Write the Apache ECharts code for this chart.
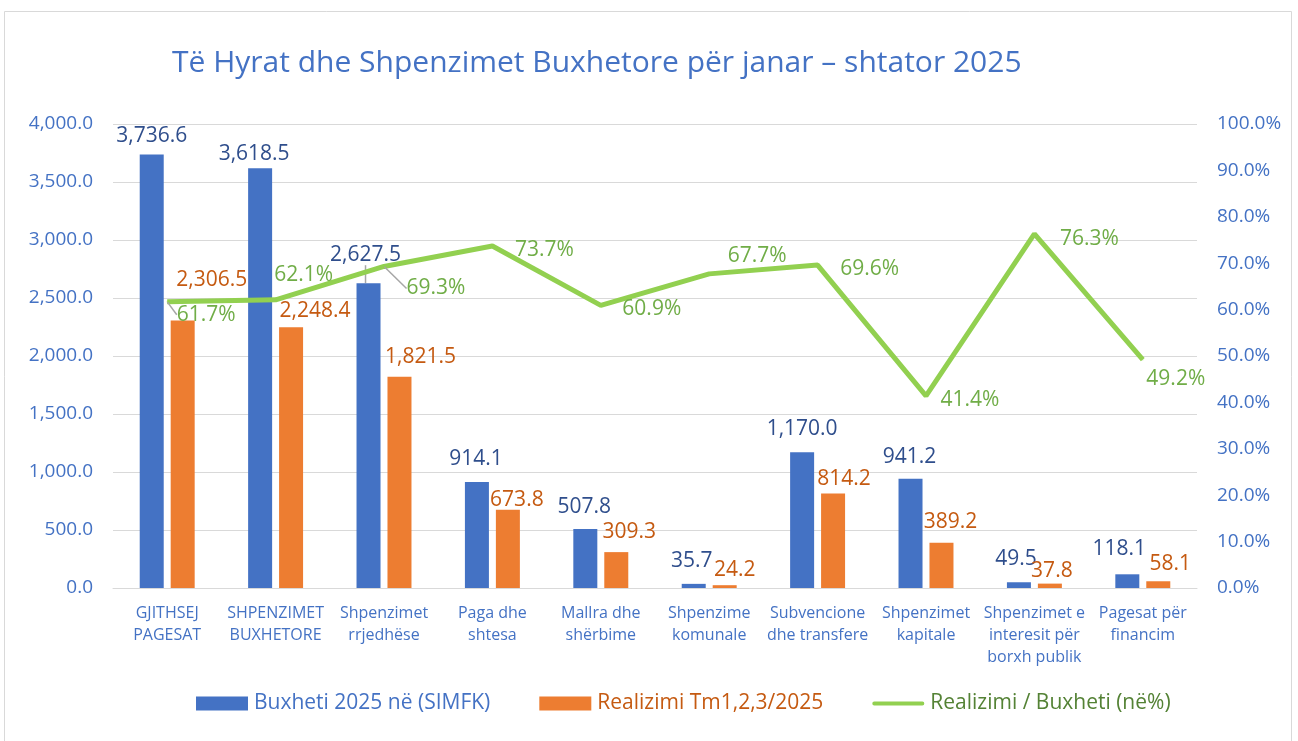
<!DOCTYPE html>
<html>
<head>
<meta charset="utf-8">
<script src="https://cdn.jsdelivr.net/npm/echarts@6/dist/echarts.min.js"></script>
<style>
html,body{margin:0;padding:0;background:#fff;}
#chart{width:1298px;height:741px;}
</style>
</head>
<body>
<div id="chart"></div>
<script>
const categories = [
  'GJITHSEJ\nPAGESAT', 'SHPENZIMET\nBUXHETORE', 'Shpenzimet\nrrjedhëse', 'Paga dhe\nshtesa',
  'Mallra dhe\nshërbime', 'Shpenzime\nkomunale', 'Subvencione\ndhe transfere', 'Shpenzimet\nkapitale',
  'Shpenzimet e\ninteresit për\nborxh publik', 'Pagesat për\nfinancim'
];
const buxheti = [3736.6, 3618.5, 2627.5, 914.1, 507.8, 35.7, 1170.0, 941.2, 49.5, 118.1];
const realizimi = [2306.5, 2248.4, 1821.5, 673.8, 309.3, 24.2, 814.2, 389.2, 37.8, 58.1];
const perqindja = [61.7, 62.1, 69.3, 73.7, 60.9, 67.7, 69.6, 41.4, 76.3, 49.2];
const seriesNames = ['Buxheti 2025 në (SIMFK)', 'Realizimi Tm1,2,3/2025', 'Realizimi / Buxheti (në%)'];
const titleText = 'Të Hyrat dhe Shpenzimet Buxhetore për janar – shtator 2025';

// label placement tweaks (styling only)
const blueOff = [[0,-3],[-6,1],[-3,-13],[-1,-7],[-1,-7],[-2,-7],[0,-8],[-1,-6],[-3,-8],[-8,-10]];
const orangeOff = [[29,-25],[24,-1],[21,-4],[9,6],[13,-5],[10,0],[11,1],[9,-5],[2,3],[12,-2]];
const greenOff = [[39,13],[28,-25],[52,22],[52,4],[51,4],[48,-18],[52,4],[44,4],[55,5],[33,19]];
const blueLeader = [2];
const greenLeader = [0, 2];

const FONT = '"Open Sans", Lato, sans-serif';
const fmtNum = v => Number(v).toLocaleString('en-US', {minimumFractionDigits: 1, maximumFractionDigits: 1});
const shift = offs => p => ({dx: offs[p.dataIndex][0], dy: offs[p.dataIndex][1]});

const chart = echarts.init(document.getElementById('chart'), null, {renderer: 'canvas'});

const blueData = buxheti.map((v, i) => ({value: v, labelLine: {show: blueLeader.includes(i)}}));
const orangeData = realizimi.map(v => ({value: v}));
const greenData = perqindja.map((v, i) => ({value: v, labelLine: {show: greenLeader.includes(i)}}));

const option = {
  backgroundColor: '#ffffff',
  animation: false,
  textStyle: {fontFamily: FONT},
  graphic: [{
    type: 'rect',
    shape: {x: 4.5, y: 11.5, width: 1287, height: 740},
    style: {fill: 'none', stroke: '#D9D9D9', lineWidth: 1},
    silent: true, z: -10
  }],
  title: {
    text: titleText,
    left: 167, top: 43,
    textStyle: {color: '#4472C4', fontSize: 30, fontWeight: 'normal', fontFamily: FONT}
  },
  legend: {
    bottom: 22, left: 191,
    itemWidth: 52, itemHeight: 14, itemGap: 49,
    textStyle: {fontSize: 21, fontFamily: FONT, padding: [0, 0, 0, 1]},
    data: [
      {name: seriesNames[0], icon: 'rect', textStyle: {color: '#4472C4'}},
      {name: seriesNames[1], icon: 'rect', textStyle: {color: '#C55A11'}},
      {name: seriesNames[2], icon: 'path://M2,0 L102,0 A2,2 0 0 1 102,8 L2,8 A2,2 0 0 1 2,0 Z', textStyle: {color: '#548235'}}
    ]
  },
  grid: {left: 113, right: 101, top: 124, bottom: 153, containLabel: false},
  xAxis: {
    type: 'category',
    data: categories,
    axisLine: {show: true, lineStyle: {color: '#D9D9D9', width: 1}},
    axisTick: {show: false},
    axisLabel: {interval: 0, color: '#4472C4', fontSize: 16, lineHeight: 22, margin: 14, fontFamily: FONT}
  },
  yAxis: [{
    type: 'value', min: 0, max: 4000, interval: 500,
    axisLine: {show: false}, axisTick: {show: false},
    splitLine: {lineStyle: {color: '#D9D9D9', width: 1}},
    axisLabel: {color: '#4472C4', fontSize: 19, margin: 20, formatter: v => fmtNum(v), fontFamily: FONT}
  }, {
    type: 'value', min: 0, max: 100, interval: 10,
    axisLine: {show: false}, axisTick: {show: false},
    splitLine: {show: false},
    axisLabel: {color: '#4472C4', fontSize: 19, margin: 20, formatter: v => v.toFixed(1) + '%', fontFamily: FONT}
  }],
  series: [{
    name: seriesNames[0], type: 'bar', data: blueData,
    barWidth: 24, barGap: '29%',
    itemStyle: {color: '#4472C4'},
    label: {show: true, position: 'top', distance: 5, color: '#2F4E8C', fontSize: 21, fontFamily: FONT, formatter: p => fmtNum(p.value)},
    labelLine: {lineStyle: {color: '#A6A6A6', width: 1.5}},
    labelLayout: shift(blueOff)
  }, {
    name: seriesNames[1], type: 'bar', data: orangeData,
    barWidth: 24,
    itemStyle: {color: '#ED7D31'},
    label: {show: true, position: 'top', distance: 5, color: '#C55A11', fontSize: 21, fontFamily: FONT, formatter: p => fmtNum(p.value)},
    labelLayout: shift(orangeOff)
  }, {
    name: seriesNames[2], type: 'line', yAxisIndex: 1, data: greenData,
    symbol: 'circle', symbolSize: 1, showSymbol: true,
    lineStyle: {color: '#92D050', width: 5},
    itemStyle: {color: '#92D050'},
    z: 5,
    label: {show: true, position: 'inside', color: '#70AD47', fontSize: 21, fontFamily: FONT, formatter: p => p.value.toFixed(1) + '%'},
    labelLine: {lineStyle: {color: '#A6A6A6', width: 1.5}},
    labelLayout: shift(greenOff)
  }]
};
chart.setOption(option);
</script>
</body>
</html>
